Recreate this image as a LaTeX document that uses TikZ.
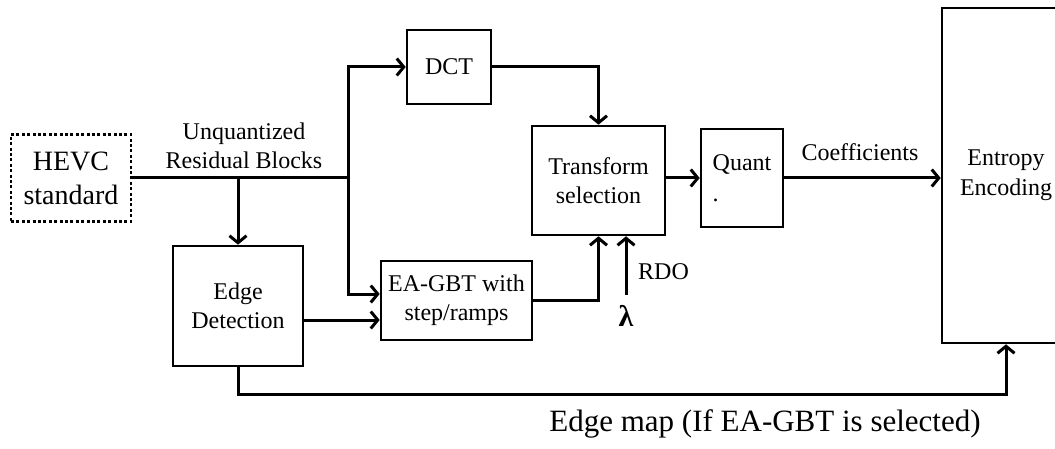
\documentclass[tikz,border=0pt]{standalone}
\usepackage{fontspec}
\setmainfont{Liberation Serif}
\usetikzlibrary{arrows.meta,calc}
\newcommand{\fs}[2]{\fontsize{#1}{#2}\selectfont}
\tikzset{
  blk/.style={draw, line width=2.6pt, align=center, inner sep=0pt, font=\fs{24}{29}},
  conn/.style={line width=3pt},
  arr/.style={conn, -{Straight Barb[length=7pt,width=17pt,line width=3pt]}},
  lbl/.style={align=center, inner sep=0pt, font=\fs{24}{29}}
}
\begin{document}
\begin{tikzpicture}[x=1pt,y=-1pt]
\useasboundingbox (0,0) rectangle (1055,449);
\clip (0,0) rectangle (1055,449);
\node[blk, dash pattern=on 3pt off 2.4pt, minimum width=120pt, minimum height=87pt, font=\fs{28}{34}] (hevc) at (71,178) {HEVC\\standard};
\node[blk, minimum width=84pt, minimum height=74pt] (dct) at (449,67) {DCT};
\node[blk, minimum width=133pt, minimum height=109pt] (trans) at (598.5,180.5) {Transform\\selection};
\node[blk, minimum width=82pt, minimum height=98pt, align=left] (quant) at (742,178) {Quant\\[2pt].};
\node[blk, minimum width=128pt, minimum height=335pt, font=\fs{24}{30}] (entropy) at (1006,175.5) {Entropy\\Encoding};
\node[blk, minimum width=130pt, minimum height=120pt] (edge) at (238,306) {Edge\\Detection};
\node[blk, minimum width=151pt, minimum height=79pt] (eagbt) at (456.5,300.5) {EA-GBT with\\step/ramps};

\coordinate (J) at (348,178);
\coordinate (ein1) at (eagbt.west |- 0,294);
\coordinate (ein2) at (eagbt.west |- 0,320);
\coordinate (bot) at (600,394);
\coordinate (rdo) at (626,295);

\draw[conn] (hevc.east) -- (J);
\draw[arr] (J) |- (dct.west);
\draw[arr] (J) |- (ein1);
\draw[arr] (edge.north |- hevc.east) -- (edge.north);
\draw[arr] (edge.east |- ein2) -- (ein2);
\draw[arr] (dct.east) -| (trans.north);
\draw[arr] (eagbt.east) -| (trans.south);
\draw[arr] (trans.east |- quant.west) -- (quant.west);
\draw[arr] (quant.east) -- (quant.east -| entropy.west);
\draw[arr] (rdo) -- (rdo |- trans.south);
\draw[arr] (edge.south) -- (edge.south |- bot) -| (entropy.south);

\node[lbl] (unq) at (244,146) {Unquantized\\Residual Blocks};
\node[lbl] (coef) at (860,152) {Coefficients};
\node[lbl, anchor=west] (rdol) at (638,272) {RDO};
\node[lbl, font=\fs{30}{36}\bfseries] (lam) at (626,316) {λ};
\node[lbl, font=\fs{31}{37}] (emap) at (765,424) {Edge map (If EA-GBT is selected)};
\end{tikzpicture}
\end{document}
